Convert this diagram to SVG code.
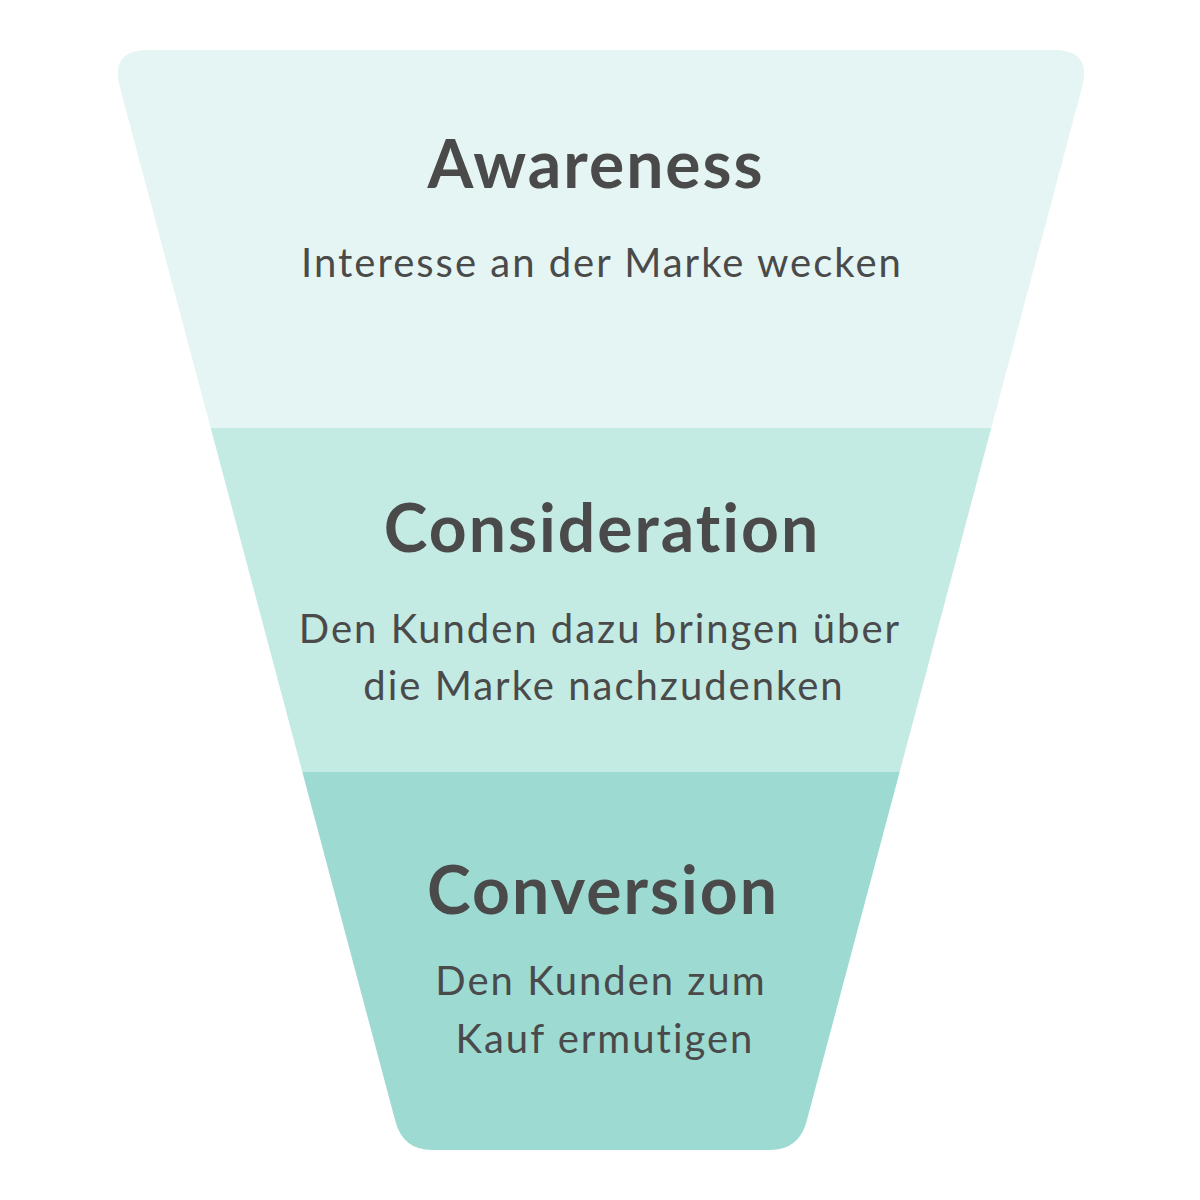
<svg xmlns="http://www.w3.org/2000/svg" width="1200" height="1200" viewBox="0 0 1200 1200">
  <defs>
    <clipPath id="funnelClip">
      <path d="M148,50 L1054,50 Q1092,50 1082.2,86.7 L806.7,1121 Q799,1150 770,1150 L432,1150 Q403,1150 395.3,1121 L119.8,86.7 Q110,50 148,50 Z"/>
    </clipPath>
    <style>
      .title { font-family: Lato, "Open Sans", sans-serif; font-weight: 700; font-size: 66px; letter-spacing: 2px; font-variant-ligatures: none; fill: #4a4a4a; text-anchor: middle; }
      .desc { font-family: Lato, "Open Sans", sans-serif; font-weight: 400; font-size: 40px; letter-spacing: 2px; font-variant-ligatures: none; fill: #4a4a4a; text-anchor: middle; }
    </style>
  </defs>
  <rect width="1200" height="1200" fill="#ffffff"/>
  <g clip-path="url(#funnelClip)">
    <g id="awareness-band"><rect x="0" y="0" width="1200" height="428" fill="#e5f5f3"/></g>
    <g id="consideration-band"><rect x="0" y="428" width="1200" height="344" fill="#c4eae4"/></g>
    <g id="conversion-band"><rect x="0" y="772" width="1200" height="428" fill="#9ddbd2"/></g>
  </g>
  <g id="awareness">
    <text class="title" x="596" y="188">Awareness</text>
    <text class="desc" x="602" y="277">Interesse an der Marke wecken</text>
  </g>
  <g id="consideration">
    <text class="title" x="602" y="552">Consideration</text>
    <text class="desc" x="600" y="643">Den Kunden dazu bringen über</text>
    <text class="desc" x="604" y="700">die Marke nachzudenken</text>
  </g>
  <g id="conversion">
    <text class="title" x="603" y="914">Conversion</text>
    <text class="desc" x="601" y="995">Den Kunden zum</text>
    <text class="desc" x="605" y="1053">Kauf ermutigen</text>
  </g>
  <g id="connectors"/>
</svg>
